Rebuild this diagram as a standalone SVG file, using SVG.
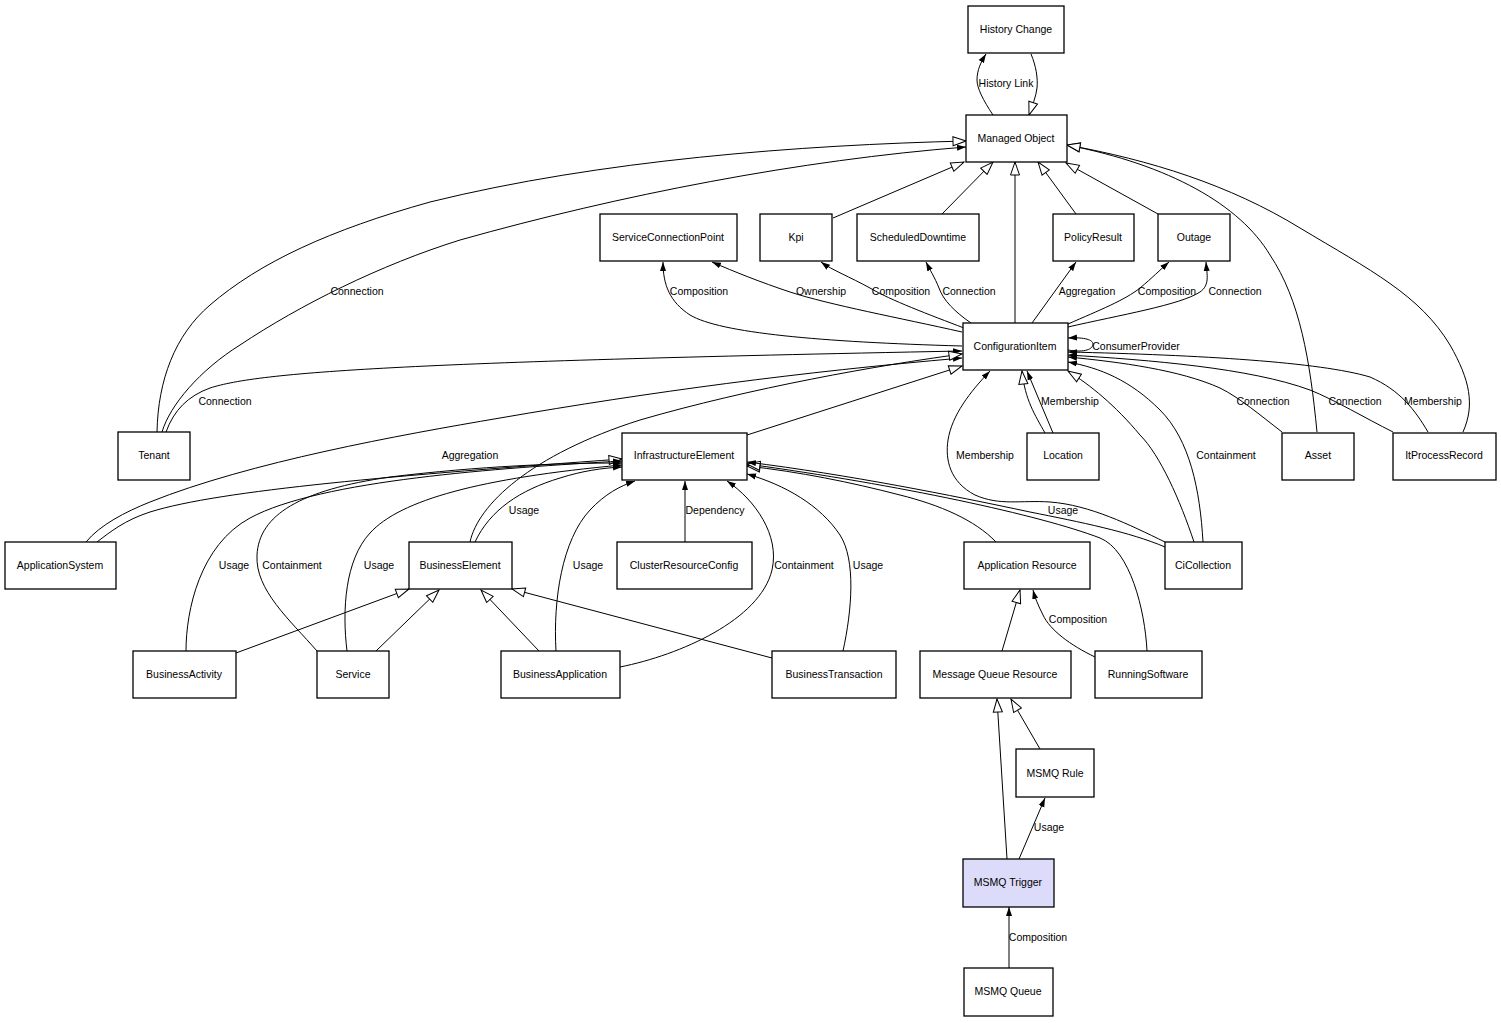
<svg xmlns="http://www.w3.org/2000/svg" width="1501" height="1023" viewBox="0 0 1501 1023">
<style>
text{font-family:"Liberation Sans",Arial,sans-serif;font-size:10.5px;fill:#000;text-anchor:middle}
.n rect{fill:#fff;stroke:#000;stroke-width:1.3}
#n_trigger rect{fill:#dcdcfa}
#connectors path{fill:none;stroke:#000;stroke-width:1}
#connectors path.f{marker-end:url(#fa)}
#connectors path.h{marker-end:url(#ha)}
</style>
<defs>
<marker id="fa" markerUnits="userSpaceOnUse" markerWidth="9" markerHeight="7" viewBox="0 0 9 7" refX="9" refY="3.5" orient="auto"><path d="M0,0.5 L9,3.5 L0,6.5 Z" fill="#000"/></marker>
<marker id="ha" markerUnits="userSpaceOnUse" markerWidth="15" markerHeight="11" viewBox="0 0 15 11" refX="14" refY="5.5" orient="auto"><path d="M1,1 L14,5.5 L1,10 Z" fill="#fff" stroke="#000" stroke-width="1"/></marker>
</defs>
<rect width="1501" height="1023" fill="#fff"/>
<g id="connectors">
<path class="f" d="M993,115 C983,100 977,88 977,80 C977,70 981,62 986,54"/>
<path class="h" d="M1031,54 C1036,66 1038,78 1037,88 C1036,97 1032,106 1029,115"/>
<path class="h" d="M157,432 C158,380 175,335 210,305 C260,262 330,230 430,202 C600,160 800,145 966,141"/>
<path class="f" d="M162,432 C170,405 200,370 240,345 C300,305 380,265 460,240 C620,195 800,160 966,147"/>
<path class="f" d="M166,432 C174,410 188,396 210,388 C260,372 400,362 962,351"/>
<path class="f" d="M86,542 C100,525 125,512 150,502 C250,462 400,435 500,418 C650,392 800,372 962,358"/>
<path class="h" d="M97,542 C110,532 125,520 150,512 C220,490 400,475 622,459"/>
<path class="h" d="M470,542 C478,505 530,455 640,420 C750,388 880,365 962,354"/>
<path class="h" d="M747,435 L962,366"/>
<path class="f" d="M475,542 C490,510 520,490 560,478 C582,471 602,468 622,467"/>
<path class="f" d="M186,651 C186,610 200,545 250,518 C320,480 500,468 622,461"/>
<path class="f" d="M317,651 C290,620 255,590 257,555 C259,515 300,490 390,477 C480,466 560,463 622,463"/>
<path class="f" d="M347,651 C342,610 345,560 370,533 C400,500 480,478 622,465"/>
<path class="f" d="M556,651 C553,600 562,540 590,510 C605,494 620,486 635,481"/>
<path class="f" d="M685,542 L685,481"/>
<path class="f" d="M620,667 C680,655 760,620 772,570 C780,535 755,500 727,481"/>
<path class="f" d="M843,651 C852,610 856,560 840,535 C820,505 785,485 747,474"/>
<path class="h" d="M996,542 C975,520 940,505 900,495 C850,482 800,472 747,466"/>
<path class="h" d="M1147,651 C1145,610 1130,550 1100,538 C1040,515 900,485 747,464"/>
<path class="f" d="M1165,547 C1130,532 1080,522 1030,512 C950,495 850,475 747,462"/>
<path class="f" d="M962,346 C820,342 720,333 690,315 C670,302 663,285 663,262"/>
<path class="f" d="M962,332 C900,318 830,305 790,292 C760,282 735,272 712,262"/>
<path class="f" d="M964,328 C930,315 890,300 870,288 C850,277 832,270 821,262"/>
<path class="f" d="M971,323 C955,312 943,300 939,288 C935,278 929,268 926,262"/>
<path class="h" d="M1015,323 L1015,162"/>
<path class="f" d="M1032,323 L1076,262"/>
<path class="f" d="M1068,324 C1100,310 1125,300 1140,288 C1152,278 1160,270 1169,262"/>
<path class="f" d="M1068,327 C1120,315 1180,305 1200,292 C1210,285 1207,275 1206,262"/>
<path class="f" d="M1068,350 C1085,353 1093,349 1093,344 C1093,340 1085,337 1068,338"/>
<path class="h" d="M833,218 L964,162"/>
<path class="h" d="M942,214 L993,162"/>
<path class="h" d="M1076,214 L1038,162"/>
<path class="h" d="M1158,214 L1066,163"/>
<path class="h" d="M1317,432 C1310,360 1300,300 1270,255 C1240,205 1170,165 1067,145"/>
<path class="h" d="M1463,432 C1475,405 1470,380 1450,345 C1420,295 1370,270 1300,228 C1230,185 1150,160 1067,145"/>
<path class="f" d="M1282,432 C1260,415 1240,398 1220,388 C1180,370 1120,362 1068,357"/>
<path class="f" d="M1393,432 C1365,418 1335,400 1310,390 C1250,368 1150,360 1068,355"/>
<path class="f" d="M1428,432 C1415,410 1400,390 1370,377 C1320,362 1200,355 1068,352"/>
<path class="f" d="M1203,542 C1200,490 1190,440 1160,410 C1130,380 1100,368 1068,362"/>
<path class="h" d="M1194,542 C1180,500 1160,455 1140,435 C1115,405 1090,385 1068,371"/>
<path class="f" d="M1165,542 C1130,525 1090,505 1050,502 C1020,500 1000,506 975,495 C950,482 945,460 948,440 C952,415 970,392 990,371"/>
<path class="h" d="M1045,433 C1035,415 1025,400 1022,371"/>
<path class="f" d="M1053,433 L1027,371"/>
<path class="h" d="M236,653 L409,589"/>
<path class="h" d="M376,651 L439,590"/>
<path class="h" d="M539,651 L481,590"/>
<path class="h" d="M772,658 L512,589"/>
<path class="h" d="M1002,651 L1020,590"/>
<path class="f" d="M1095,657 C1070,645 1050,630 1043,615 C1038,605 1035,598 1033,590"/>
<path class="h" d="M1007,859 L997,699"/>
<path class="h" d="M1040,749 L1011,699"/>
<path class="f" d="M1019,859 L1045,798"/>
<path class="f" d="M1009,968 L1009,907"/>
<text x="1006" y="87">History Link</text>
<text x="357" y="295">Connection</text>
<text x="225" y="405">Connection</text>
<text x="470" y="459">Aggregation</text>
<text x="699" y="295">Composition</text>
<text x="821" y="295">Ownership</text>
<text x="901" y="295">Composition</text>
<text x="969" y="295">Connection</text>
<text x="1087" y="295">Aggregation</text>
<text x="1167" y="295">Composition</text>
<text x="1235" y="295">Connection</text>
<text x="1136" y="350">ConsumerProvider</text>
<text x="1070" y="405">Membership</text>
<text x="1263" y="405">Connection</text>
<text x="1355" y="405">Connection</text>
<text x="1433" y="405">Membership</text>
<text x="985" y="459">Membership</text>
<text x="1226" y="459">Containment</text>
<text x="524" y="514">Usage</text>
<text x="715" y="514">Dependency</text>
<text x="1063" y="514">Usage</text>
<text x="234" y="569">Usage</text>
<text x="292" y="569">Containment</text>
<text x="379" y="569">Usage</text>
<text x="588" y="569">Usage</text>
<text x="804" y="569">Containment</text>
<text x="868" y="569">Usage</text>
<text x="1078" y="623">Composition</text>
<text x="1049" y="831">Usage</text>
<text x="1038" y="941">Composition</text>
</g>
<g id="n_historychange" class="n"><rect x="968" y="6" width="96" height="47"/><text x="1016" y="33">History Change</text></g>
<g id="n_managedobject" class="n"><rect x="966" y="115" width="101" height="47"/><text x="1016" y="142">Managed Object</text></g>
<g id="n_scp" class="n"><rect x="600" y="214" width="137" height="47"/><text x="668" y="241">ServiceConnectionPoint</text></g>
<g id="n_kpi" class="n"><rect x="760" y="214" width="72" height="47"/><text x="796" y="241">Kpi</text></g>
<g id="n_sd" class="n"><rect x="857" y="214" width="122" height="47"/><text x="918" y="241">ScheduledDowntime</text></g>
<g id="n_pr" class="n"><rect x="1053" y="214" width="81" height="47"/><text x="1093" y="241">PolicyResult</text></g>
<g id="n_outage" class="n"><rect x="1158" y="214" width="72" height="47"/><text x="1194" y="241">Outage</text></g>
<g id="n_ci" class="n"><rect x="963" y="323" width="105" height="47"/><text x="1015" y="350">ConfigurationItem</text></g>
<g id="n_tenant" class="n"><rect x="118" y="432" width="72" height="48"/><text x="154" y="459">Tenant</text></g>
<g id="n_ie" class="n"><rect x="622" y="433" width="125" height="47"/><text x="684" y="459">InfrastructureElement</text></g>
<g id="n_location" class="n"><rect x="1027" y="433" width="72" height="47"/><text x="1063" y="459">Location</text></g>
<g id="n_asset" class="n"><rect x="1282" y="433" width="72" height="47"/><text x="1318" y="459">Asset</text></g>
<g id="n_ipr" class="n"><rect x="1393" y="433" width="103" height="47"/><text x="1444" y="459">ItProcessRecord</text></g>
<g id="n_as" class="n"><rect x="5" y="542" width="111" height="47"/><text x="60" y="569">ApplicationSystem</text></g>
<g id="n_be" class="n"><rect x="409" y="542" width="103" height="47"/><text x="460" y="569">BusinessElement</text></g>
<g id="n_crc" class="n"><rect x="617" y="542" width="135" height="47"/><text x="684" y="569">ClusterResourceConfig</text></g>
<g id="n_ar" class="n"><rect x="964" y="542" width="126" height="47"/><text x="1027" y="569">Application Resource</text></g>
<g id="n_cic" class="n"><rect x="1165" y="542" width="77" height="47"/><text x="1203" y="569">CiCollection</text></g>
<g id="n_bact" class="n"><rect x="133" y="651" width="103" height="47"/><text x="184" y="678">BusinessActivity</text></g>
<g id="n_service" class="n"><rect x="317" y="651" width="72" height="47"/><text x="353" y="678">Service</text></g>
<g id="n_bapp" class="n"><rect x="501" y="651" width="119" height="47"/><text x="560" y="678">BusinessApplication</text></g>
<g id="n_bt" class="n"><rect x="772" y="651" width="124" height="47"/><text x="834" y="678">BusinessTransaction</text></g>
<g id="n_mqr" class="n"><rect x="920" y="651" width="151" height="47"/><text x="995" y="678">Message Queue Resource</text></g>
<g id="n_rs" class="n"><rect x="1095" y="651" width="107" height="47"/><text x="1148" y="678">RunningSoftware</text></g>
<g id="n_rule" class="n"><rect x="1016" y="749" width="78" height="48"/><text x="1055" y="777">MSMQ Rule</text></g>
<g id="n_trigger" class="n"><rect x="963" y="859" width="91" height="48"/><text x="1008" y="886">MSMQ Trigger</text></g>
<g id="n_queue" class="n"><rect x="964" y="968" width="89" height="48"/><text x="1008" y="995">MSMQ Queue</text></g>
</svg>
